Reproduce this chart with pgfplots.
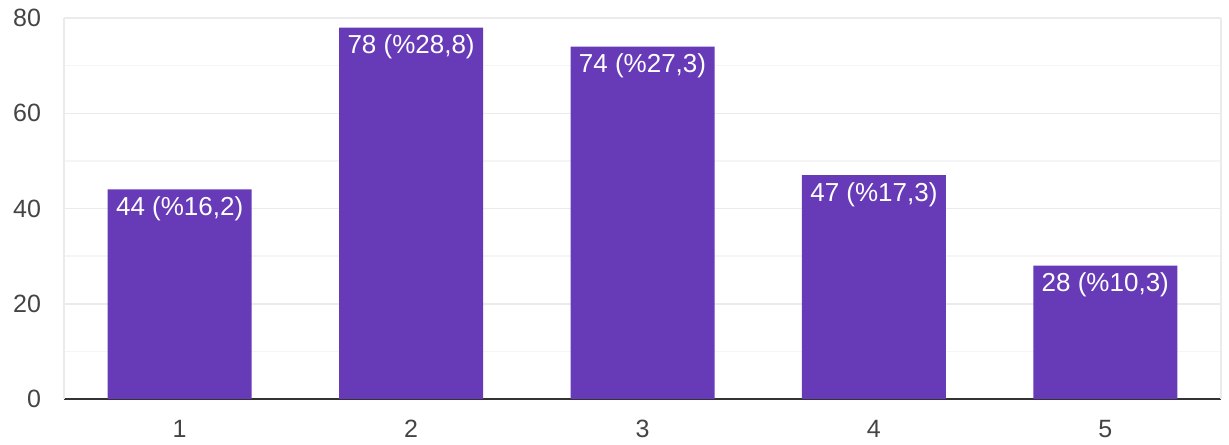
\documentclass[border=0pt]{standalone}
\usepackage{fontspec}
\setmainfont{Liberation Sans}
\usepackage{pgfplots}
\pgfplotsset{compat=1.18}
\definecolor{barc}{HTML}{673AB7}
\definecolor{gmaj}{HTML}{EBEBEB}
\definecolor{gmin}{HTML}{F5F5F5}
\definecolor{tickc}{HTML}{444444}
\definecolor{basec}{HTML}{333333}
\begin{document}
\begin{tikzpicture}
\useasboundingbox (0,0) rectangle (614.5pt,222pt);
\begin{axis}[
  at={(32pt,22.5pt)}, anchor=origin,
  scale only axis, width=578.5pt, height=190.5pt,
  xmin=0.5, xmax=5.5, ymin=0, ymax=80,
  xtick={1,2,3,4,5}, xticklabels={1,2,3,4,5},
  ytick={0,20,40,60,80}, minor ytick={10,30,50,70},
  ymajorgrids, yminorgrids,
  major grid style={draw=gmaj, line width=0.75pt},
  minor grid style={draw=gmin, line width=0.75pt},
  axis x line=bottom, axis y line=left,
  x axis line style={draw=basec, line width=1.2pt, -},
  y axis line style={draw=gmaj, line width=0.75pt, -},
  extra x ticks={5.5}, extra x tick labels={},
  extra x tick style={xmajorgrids, major grid style={draw=gmaj, line width=0.75pt}},
  major tick length=0pt, minor tick length=0pt,
  tick style={draw=none},
  ticklabel style={font=\fontsize{12.5}{14}\selectfont, text=tickc},
  yticklabel style={xshift=-8pt},
  xticklabel style={yshift=-7pt},
  /pgf/number format/assume math mode=true,
  ybar, bar width=72pt, bar shift=0pt,
  point meta=explicit symbolic,
  nodes near coords,
  every node near coord/.append style={anchor=north, yshift=0pt, text=white, font=\fontsize{13}{15}\selectfont},
  axis on top=false,
]
\addplot[fill=barc, draw=none] coordinates {
  (1,44) [44 (\%16,2)]
  (2,78) [78 (\%28,8)]
  (3,74) [74 (\%27,3)]
  (4,47) [47 (\%17,3)]
  (5,28) [28 (\%10,3)]
};
\end{axis}
\end{tikzpicture}
\end{document}
